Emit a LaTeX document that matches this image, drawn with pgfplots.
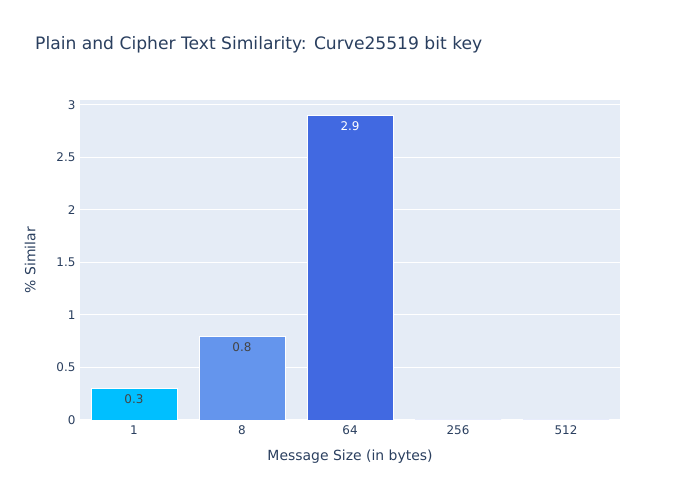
\documentclass[border=0pt]{standalone}
\usepackage{fontspec}
\setmainfont{DejaVu Sans}
\usepackage{pgfplots}
\pgfplotsset{compat=1.18}
\definecolor{bg}{HTML}{E5ECF6}
\definecolor{txt}{HTML}{2A3F5F}
\definecolor{c1}{HTML}{00BFFF}
\definecolor{c2}{HTML}{6495ED}
\definecolor{c3}{HTML}{4169E1}
\definecolor{lbl}{HTML}{444444}
\begin{document}
\begin{tikzpicture}[x=1bp,y=1bp]
\path[use as bounding box, fill=white] (0,0) rectangle (700,500);
\node[anchor=base west, text=txt, font=\fontsize{17.2}{20}\selectfont, inner sep=0] at (35,450) {Plain and Cipher Text Similarity: Curve25519 bit key};
\begin{axis}[
  at={(80bp,80bp)}, anchor=south west,
  scale only axis, width=540bp, height=320bp,
  xmin=-0.5, xmax=4.5, ymin=0, ymax=3.0476,
  axis background/.style={fill=bg},
  axis line style={draw=none},
  major tick length=0pt,
  xtick={0,1,2,3,4}, xticklabels={1,8,64,256,512},
  ytick={0,0.5,1,1.5,2,2.5,3},
  yticklabels={0,0.5,1,1.5,2,2.5,3},
  ymajorgrids, grid style={white, line width=1bp},
  tick label style={text=txt, font=\fontsize{12}{14}\selectfont},
  xticklabel style={yshift=-2bp},
  yticklabel style={xshift=-1bp},
  xlabel={Message Size (in bytes)}, ylabel={\% Similar},
  label style={text=txt, font=\fontsize{14}{16}\selectfont},
  xlabel style={yshift=-9bp},
  ylabel style={yshift=14bp},
  ybar, bar width=86bp, bar shift=0pt,
  nodes near coords,
  every node near coord/.append style={anchor=north, yshift=-3bp, font=\fontsize{12}{14}\selectfont},
  /pgf/number format/assume math mode=true,
  clip=false,
]
\addplot[fill=c1, draw=white, line width=0.5bp, every node near coord/.append style={text=lbl}] coordinates {(0,0.3)};
\addplot[fill=c2, draw=white, line width=0.5bp, every node near coord/.append style={text=lbl}] coordinates {(1,0.8)};
\addplot[fill=c3, draw=white, line width=0.5bp, every node near coord/.append style={text=white}] coordinates {(2,2.9)};
\addplot[fill=c3, draw=white, line width=0.5bp, nodes near coords={}] coordinates {(3,0) (4,0)};
\end{axis}
\end{tikzpicture}
\end{document}
